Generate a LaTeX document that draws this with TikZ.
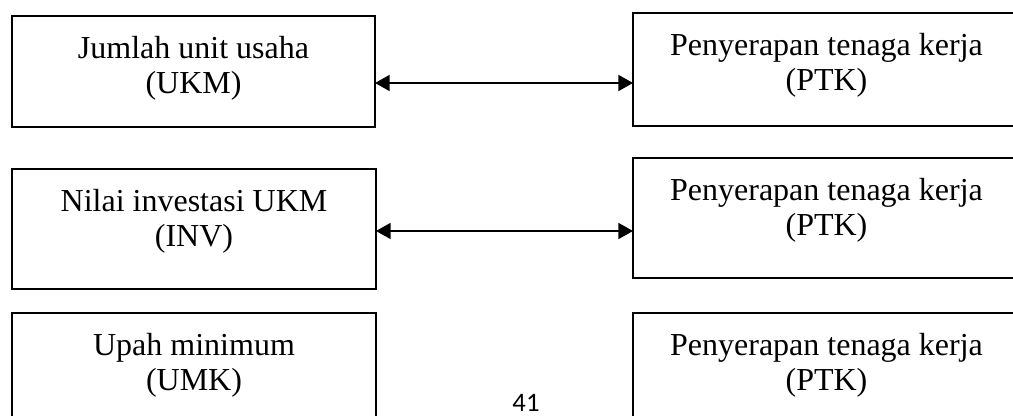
\documentclass[tikz,border=0pt]{standalone}
\usepackage{fontspec}
\setmainfont{Liberation Serif}
\newfontfamily\pagefont{Carlito}
\usetikzlibrary{arrows.meta,positioning}

\begin{document}
\begin{tikzpicture}[x=0.75pt,y=0.75pt,yscale=-1,xscale=1,
  box/.style={draw,line width=0.9pt,inner sep=0pt,outer sep=0pt},
  txt/.style={inner sep=0pt,align=center,font=\fontsize{24pt}{26.25pt}\selectfont},
  arr/.style={{Triangle[length=11pt,width=12pt]}-{Triangle[length=11pt,width=12pt]},line width=1.4pt}]
\useasboundingbox (0,0) rectangle (1013,416);
\clip (0,0) rectangle (1013,416);
\node[box,minimum width=272.25pt,minimum height=83.25pt] (ukm) at (193.5,71.5) {};
\node[box,minimum width=290.25pt,minimum height=84.75pt] (ptka) at (826.5,69.5) {};
\node[box,minimum width=273pt,minimum height=90pt] (inv) at (194,229) {};
\node[box,minimum width=290.25pt,minimum height=90pt] (ptkb) at (826.5,218) {};
\node[box,minimum width=273pt,minimum height=97.5pt] (umk) at (194,378) {};
\node[box,minimum width=290.25pt,minimum height=97.5pt] (ptkc) at (826.5,378) {};
\node[txt,below=15pt of ukm.north] (ukmtxt) {Jumlah unit usaha\\(UKM)};
\node[txt,below=15pt of ptka.north] (ptkatxt) {Penyerapan tenaga kerja\\(PTK)};
\node[txt,below=15pt of inv.north] (invtxt) {Nilai investasi UKM\\(INV)};
\node[txt,below=15pt of ptkb.north] (ptkbtxt) {Penyerapan tenaga kerja\\(PTK)};
\node[txt,below=15pt of umk.north] (umktxt) {Upah minimum\\(UMK)};
\node[txt,below=15pt of ptkc.north] (ptkctxt) {Penyerapan tenaga kerja\\(PTK)};
\coordinate (lvla) at (0,83);
\coordinate (lvlb) at (0,231);
\draw[arr] (ukm.east |- lvla) -- (ptka.west |- lvla);
\draw[arr] (inv.east |- lvlb) -- (ptkb.west |- lvlb);
\node[anchor=base,inner sep=0pt,font=\pagefont\fontsize{20pt}{24pt}\selectfont] (hal) at (526,411) {41};
\end{tikzpicture}
\end{document}
